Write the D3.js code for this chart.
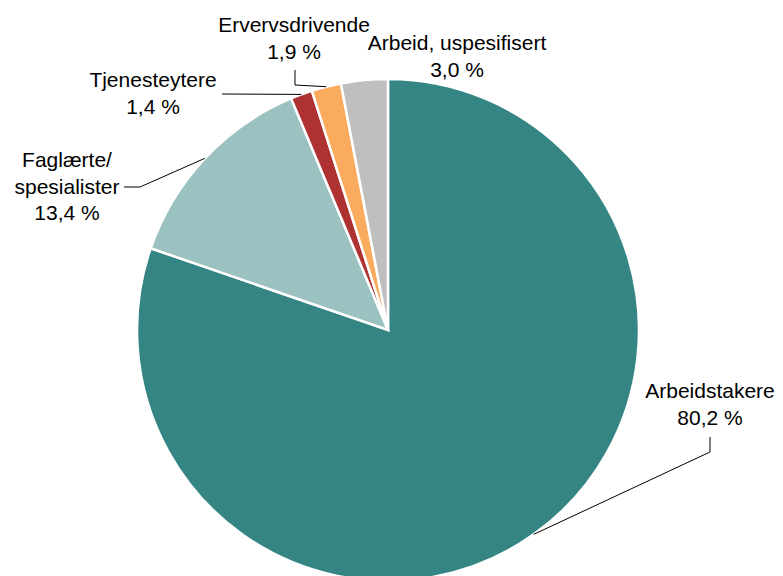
<!DOCTYPE html>
<html><head><meta charset="utf-8">
<script src="https://cdn.jsdelivr.net/npm/d3@7"></script>
<style>body{margin:0;background:#fff}svg{display:block}text{font-family:"Liberation Sans",Arial,sans-serif;font-size:21px;fill:#000}</style>
</head><body>
<script>
const categories = ["Arbeidstakere","Faglærte/\nspesialister","Tjenesteytere","Ervervsdrivende","Arbeid, uspesifisert"];
const values = [80.2, 13.4, 1.4, 1.9, 3.0];
const labels = ["80,2 %","13,4 %","1,4 %","1,9 %","3,0 %"];
const colors = ["#348583","#9cc1c1","#ae3232","#fbab5d","#bfbfbf"];

const W=783,H=576,cx=388,cy=330,R=251;
const svg=d3.select("body").append("svg").attr("width",W).attr("height",H);
const pie=d3.pie().sort(null).value(d=>d)(values);
const arc=d3.arc().innerRadius(0).outerRadius(R);
const g=svg.append("g").attr("transform",`translate(${cx},${cy})`);
g.selectAll("path").data(pie).join("path").attr("d",arc)
 .attr("fill",(d,i)=>colors[i]).attr("stroke","#fff").attr("stroke-width",2.5);

const labelPos=[
 {x:710,y:398,line:[[710,437],[710,452]]},
 {x:67,y:167,line:[[124,187],[140,187]]},
 {x:153,y:87,line:[[222,94]]},
 {x:294,y:32,line:[[295,70],[295,85]]},
 {x:457,y:50,line:null}
];
const outer=d3.arc().innerRadius(R).outerRadius(R);
pie.forEach((d,i)=>{
  const lp=labelPos[i];
  const lines=categories[i].split("\n").concat([labels[i]]);
  const t=svg.append("text").attr("text-anchor","middle");
  lines.forEach((s,k)=>t.append("tspan").attr("x",lp.x).attr("y",lp.y+k*26.5).text(s));
  if(lp.line){
    const c=outer.centroid(d);
    const pts=lp.line.concat([[cx+c[0],cy+c[1]]]);
    svg.append("path").attr("d",d3.line()(pts)).attr("fill","none").attr("stroke","#000").attr("stroke-width",1);
  }
});
</script>
</body></html>
